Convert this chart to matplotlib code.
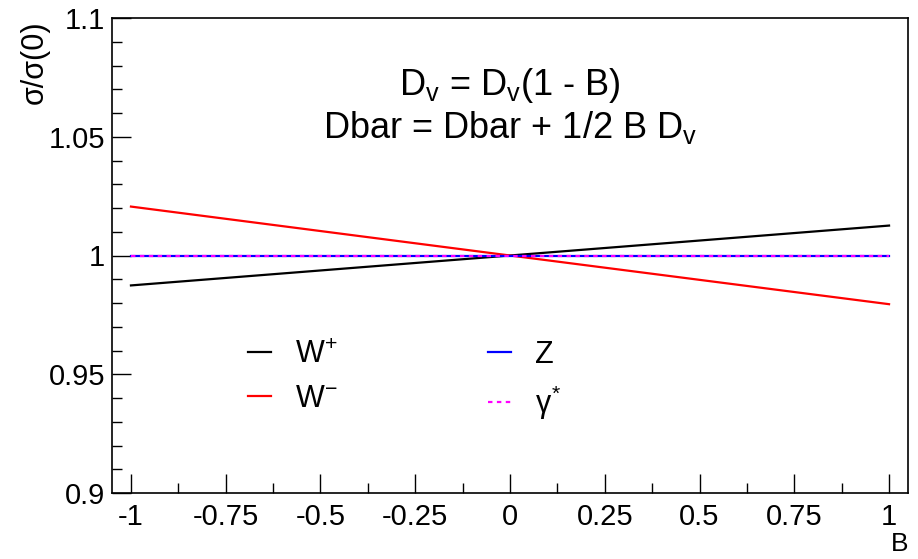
import numpy as np
import matplotlib
matplotlib.use("Agg")
import matplotlib.pyplot as plt
from matplotlib.ticker import MultipleLocator

plt.rcParams['font.family'] = ['Liberation Sans', 'DejaVu Sans']
plt.rcParams['mathtext.fontset'] = 'custom'
plt.rcParams['mathtext.rm'] = 'Liberation Sans'
plt.rcParams['mathtext.it'] = 'Liberation Sans'

# values
B = [-1.0, 0.0, 1.0]
w_plus = [0.9874, 1.0, 1.0126]
w_minus = [1.0206, 1.0, 0.9795]
z_val = [1.0, 1.0, 1.0]
gamma_val = [1.0, 1.0, 1.0]

xticks = [-1, -0.75, -0.5, -0.25, 0, 0.25, 0.5, 0.75, 1]
xlabels = ['-1', '-0.75', '-0.5', '-0.25', '0', '0.25', '0.5', '0.75', '1']
yticks = [0.9, 0.95, 1.0, 1.05, 1.1]
ylabels = ['0.9', '0.95', '1', '1.05', '1.1']

fig = plt.figure(figsize=(9.18, 5.59), dpi=100)
ax = fig.add_axes([112/918, 1-493/559, (908-112)/918, (493-18)/559])

ax.plot(B, w_plus, color='black', lw=1.6, label='W$^{+}$')
ax.plot(B, w_minus, color='#ff0000', lw=1.6, label='W$^{-}$')
ax.plot(B, z_val, color='#0000ff', lw=1.6, label='Z')
ax.plot(B, gamma_val, color='#ff00ff', lw=1.6, ls=(0, (2, 2)), label=r'$\gamma^{*}$')

ax.set_xlim(-1.05, 1.05)
ax.set_ylim(0.9, 1.1)
ax.set_xticks(xticks)
ax.set_xticklabels(xlabels)
ax.set_yticks(yticks)
ax.set_yticklabels(ylabels)
ax.xaxis.set_minor_locator(MultipleLocator(0.125))
ax.yaxis.set_minor_locator(MultipleLocator(0.01))
ax.tick_params(which='major', direction='in', length=14, width=1, labelsize=21)
ax.tick_params(axis='x', which='major', pad=7)
ax.tick_params(axis='y', which='major', pad=5)
ax.tick_params(which='minor', direction='in', length=7, width=1)
ax.tick_params(top=False, right=False)
for s in ax.spines.values():
    s.set_linewidth(1.2)

ax.set_xlabel('B', fontsize=19, loc='right', labelpad=1)
ax.set_ylabel('σ/σ(0)', fontsize=22, loc='top')
ax.yaxis.set_label_coords(-0.078, 0.995)

ax.text(0.5, 0.838, r'D$_{\rm v}$ = D$_{\rm v}$(1 - B)', transform=ax.transAxes,
        ha='center', va='baseline', fontsize=26)
ax.text(0.5, 0.747, r'Dbar = Dbar + 1/2 B D$_{\rm v}$', transform=ax.transAxes,
        ha='center', va='baseline', fontsize=26)

ax.legend(ncol=2, loc='upper left', bbox_to_anchor=(0.171, 0.322), frameon=False,
          fontsize=22, handlelength=0.75, handletextpad=0.8, columnspacing=4.9,
          labelspacing=0.45, borderpad=0, borderaxespad=0)

fig.savefig('out.png', dpi=100)
